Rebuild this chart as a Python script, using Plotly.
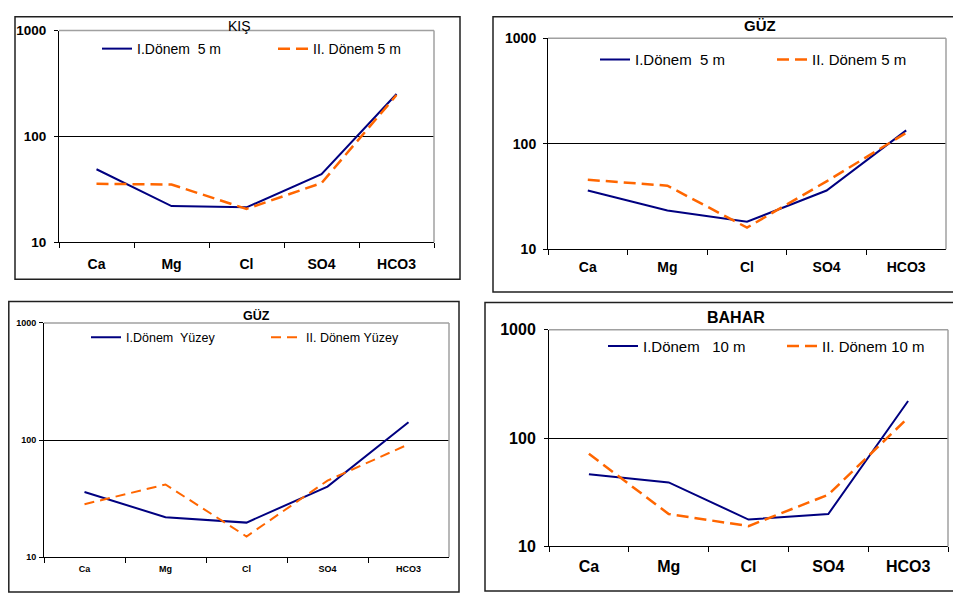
import plotly.graph_objects as go

# The page body has an 8px margin: the figure starts at window pixel (8, 8).
OX, OY = 8, 8
W, H = 961 - OX, 603 - OY

categories = ["Ca", "Mg", "Cl", "SO4", "HCO3"]
ytick_vals = [10, 100, 1000]
ytick_text = ["10", "100", "1000"]

kis_I = [49, 22, 21.4, 44, 252]
kis_II = [35.7, 35.2, 20.7, 36.3, 246]
guz5_I = [36, 23.3, 18.2, 36, 134]
guz5_II = [45.5, 40, 16, 44, 127]
guzy_I = [36, 21.9, 19.7, 40, 142]
guzy_II = [28.3, 41.7, 15.0, 45, 92]
bahar_I = [46.4, 39, 17.7, 19.9, 220]
bahar_II = [71.5, 19.9, 15.4, 30, 154]

titles = ["KIŞ", "GÜZ", "GÜZ", "BAHAR"]
names_I = ["I.Dönem  5 m", "I.Dönem  5 m", "I.Dönem  Yüzey", "I.Dönem   10 m"]
names_II = ["II. Dönem 5 m", "II. Dönem 5 m", "II. Dönem Yüzey", "II. Dönem 10 m"]
series_I = [kis_I, guz5_I, guzy_I, bahar_I]
series_II = [kis_II, guz5_II, guzy_II, bahar_II]

BLUE = "#000080"
ORANGE = "#FF6600"


def X(px):
    return (px - OX) / W


def Y(py):
    return 1 - (py - OY) / H


# panel geometry in window pixels
panels = [
    dict(plot=(59, 434, 23, 241), box=(15, 8.8, 460, 279), title=(239, 18, 14, "normal"),
         leg_y=42, t1=137, t2=313, lfs=14, tfs=14, yfs=13.5, xstand=9, ystand=5, dash="12px,6px", w2=2.5),
    dict(plot=(548, 946, 31, 248), box=(493, 8.8, 975, 292), title=(760, 18, 15, "bold"),
         leg_y=53, t1=635, t2=812, lfs=15, tfs=14, yfs=14, xstand=5, ystand=4, dash="12px,6px", w2=2.5),
    dict(plot=(44, 449, 324, 565), box=(8.8, 302, 459, 601), title=(256, 316, 12.5, "bold"),
         leg_y=339, t1=126, t2=306, lfs=12.5, tfs=9, yfs=9, xstand=3, ystand=1, dash="10px,6px", w2=2),
    dict(plot=(549, 948, 331, 554), box=(485, 303, 975, 600), title=(736, 318, 16, "bold"),
         leg_y=348, t1=643, t2=822, lfs=15, tfs=16, yfs=16, xstand=5, ystand=5, dash="12px,6px", w2=2.5),
]

fig = go.Figure()
layout = dict(
    width=W, height=H, margin=dict(l=0, r=0, t=0, b=0),
    paper_bgcolor="white", plot_bgcolor="white", showlegend=True,
)
shapes = []
annotations = []

FONT = "Liberation Sans, Arial, sans-serif"

for i, p in enumerate(panels):
    k = i + 1
    xs = "" if k == 1 else str(k)
    x0, x1, y0, y1 = p["plot"]
    leg1 = "legend" + ("" if 2 * i + 1 == 1 else str(2 * i + 1))
    leg2 = "legend" + str(2 * i + 2)
    fig.add_trace(go.Scatter(
        x=categories, y=series_I[i], mode="lines", name=names_I[i],
        line=dict(color=BLUE, width=2), xaxis="x" + xs, yaxis="y" + xs, legend=leg1,
    ))
    fig.add_trace(go.Scatter(
        x=categories, y=series_II[i], mode="lines", name=names_II[i],
        line=dict(color=ORANGE, width=p["w2"], dash=p["dash"]), xaxis="x" + xs, yaxis="y" + xs, legend=leg2,
    ))
    layout["xaxis" + xs] = dict(
        domain=[X(x0), X(x1)], anchor="y" + xs, type="category", range=[-0.5, 4.5],
        showline=True, linecolor="black", linewidth=1, ticks="outside", ticklen=5,
        tickcolor="black", tickwidth=1, tickson="boundaries", showgrid=False,
        tickfont=dict(family=FONT, size=p["tfs"], color="black", weight="bold"),
        ticklabelstandoff=p["xstand"], fixedrange=True,
    )
    layout["yaxis" + xs] = dict(
        domain=[Y(y1), Y(y0)], anchor="x" + xs, type="log", range=[1, 3],
        tickvals=ytick_vals, ticktext=ytick_text,
        showline=True, linecolor="black", linewidth=1, ticks="outside", ticklen=4,
        tickcolor="black", tickwidth=1, showgrid=True, gridcolor="black", gridwidth=1,
        zeroline=False,
        tickfont=dict(family=FONT, size=p["yfs"], color="black", weight="bold"),
        ticklabelstandoff=p["ystand"], fixedrange=True,
    )
    for leg, tx in ((leg1, p["t1"]), (leg2, p["t2"])):
        layout[leg] = dict(
            x=X(tx - 40), y=Y(p["leg_y"]), xanchor="left", yanchor="middle",
            orientation="h", bgcolor="rgba(0,0,0,0)", borderwidth=0,
            font=dict(family=FONT, size=p["lfs"], color="black"),
            itemwidth=30,
        )
    shapes.append(dict(type="line", xref="x" + xs + " domain", yref="y" + xs + " domain",
                       x0=0, x1=1, y0=1, y1=1, line=dict(color="#A0A0A0", width=1.5), layer="above"))
    shapes.append(dict(type="line", xref="x" + xs + " domain", yref="y" + xs + " domain",
                       x0=1, x1=1, y0=0, y1=1, line=dict(color="#A0A0A0", width=1.5), layer="above"))
    bx0, by0, bx1, by1 = p["box"]
    shapes.append(dict(type="rect", xref="paper", yref="paper",
                       x0=X(bx0), x1=X(bx1), y0=Y(by1), y1=Y(by0),
                       line=dict(color="#202020", width=1.5), layer="above"))
    tx, ty, tsz, tw = p["title"]
    annotations.append(dict(
        text=titles[i], x=X(tx), y=Y(ty), xref="paper", yref="paper", showarrow=False,
        xanchor="center", yanchor="middle",
        font=dict(family=FONT, size=tsz, color="black", weight=tw),
    ))

layout["shapes"] = shapes
layout["annotations"] = annotations
fig.update_layout(**layout)
fig.write_html("out.html")
